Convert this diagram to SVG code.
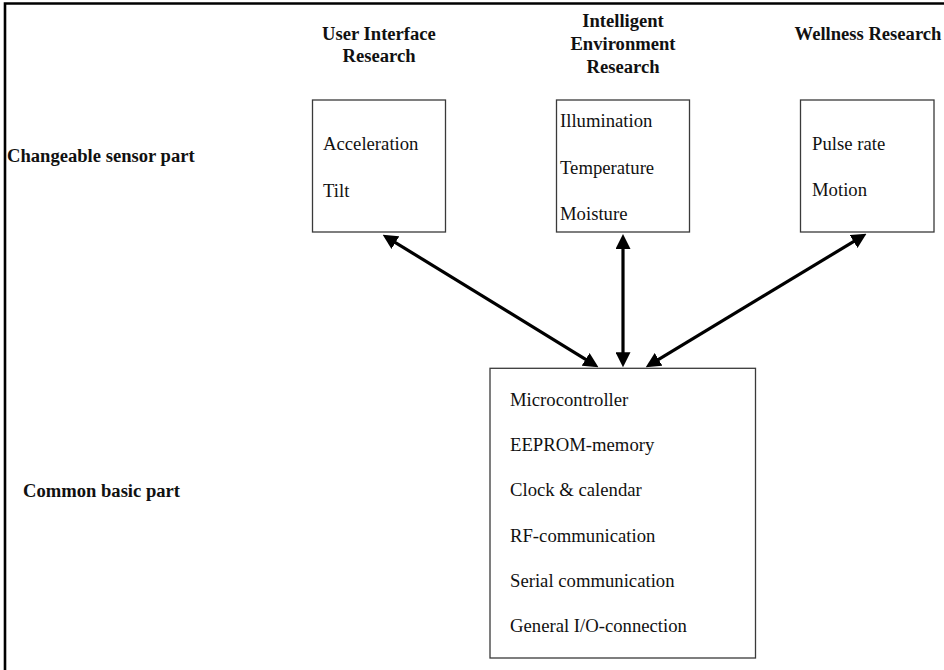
<svg xmlns="http://www.w3.org/2000/svg" width="944" height="670" viewBox="0 0 944 670">
  <style>
    .frame { fill: none; stroke: #000; stroke-width: 2.6; }
    .box { fill: #fff; stroke: #3a3a3a; stroke-width: 1.3; }
    .head { font-family: "Liberation Serif", "Times New Roman", serif; font-size: 18.6px; font-weight: bold; fill: #111; }
    .item { font-family: "Liberation Serif", "Times New Roman", serif; font-size: 18.7px; fill: #111; }
    .mid { text-anchor: middle; }
    .link { stroke: #000; stroke-width: 3.2; fill: none; marker-start: url(#head); marker-end: url(#head); }
  </style>
  <defs>
    <marker id="head" markerUnits="userSpaceOnUse" markerWidth="15" markerHeight="15" viewBox="0 0 15 15" refX="10.5" refY="7.5" orient="auto-start-reverse">
      <path d="M0,0 L15,7.5 L0,15 z" fill="#000"/>
    </marker>
  </defs>
  <rect width="944" height="670" fill="#fff"/>

  <!-- outer frame (top and left edges) -->
  <path class="frame" d="M5,672 V3.5 H946"/>

  <!-- row labels -->
  <g id="label-sensor">
    <text class="head" x="7" y="162">Changeable sensor part</text>
  </g>
  <g id="label-common">
    <text class="head" x="23" y="497">Common basic part</text>
  </g>

  <!-- column headings -->
  <g id="heading-ui">
    <text class="head mid" x="379" y="39.5">User Interface</text>
    <text class="head mid" x="379" y="61.5">Research</text>
  </g>
  <g id="heading-env">
    <text class="head mid" x="623" y="27">Intelligent</text>
    <text class="head mid" x="623" y="50">Environment</text>
    <text class="head mid" x="623" y="72.5">Research</text>
  </g>
  <g id="heading-wellness">
    <text class="head mid" x="868" y="39.5">Wellness Research</text>
  </g>

  <!-- sensor modules -->
  <g id="sensor-ui">
    <rect class="box" x="312.5" y="100" width="133" height="132"/>
    <text class="item" x="323" y="150">Acceleration</text>
    <text class="item" x="323" y="196.5">Tilt</text>
  </g>
  <g id="sensor-env">
    <rect class="box" x="556.5" y="100" width="133" height="132"/>
    <text class="item" x="560" y="127.3">Illumination</text>
    <text class="item" x="560" y="173.8">Temperature</text>
    <text class="item" x="560" y="220">Moisture</text>
  </g>
  <g id="sensor-wellness">
    <rect class="box" x="800.5" y="100" width="133.5" height="132"/>
    <text class="item" x="812" y="149.5">Pulse rate</text>
    <text class="item" x="812" y="196">Motion</text>
  </g>

  <!-- common base unit -->
  <g id="base-unit">
    <rect class="box" x="490" y="368.3" width="265.5" height="289.7"/>
    <text class="item" x="510" y="405.5">Microcontroller</text>
    <text class="item" x="510" y="451">EEPROM-memory</text>
    <text class="item" x="510" y="496">Clock &amp; calendar</text>
    <text class="item" x="510" y="541.5">RF-communication</text>
    <text class="item" x="510" y="587">Serial communication</text>
    <text class="item" x="510" y="632">General I/O-connection</text>
  </g>

  <!-- two-way links between base unit and sensor modules -->
  <g id="connectors">
    <line class="link" x1="386.5" y1="237.1" x2="594.6" y2="364.9"/>
    <line class="link" x1="623" y1="238.5" x2="623" y2="362.8"/>
    <line class="link" x1="862.6" y1="236.1" x2="649.6" y2="364.8"/>
  </g>
</svg>
